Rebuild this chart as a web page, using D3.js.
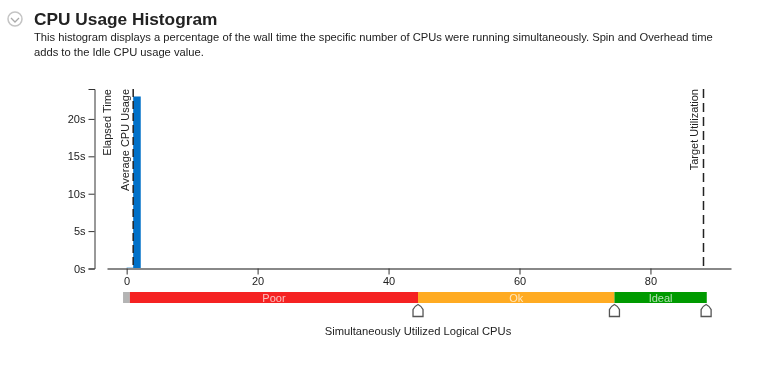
<!DOCTYPE html>
<html>
<head>
<meta charset="utf-8">
<script src="https://cdn.jsdelivr.net/npm/d3@7"></script>
<style>
body { margin: 0; background: #fff; font-family: "Liberation Sans", Arial, sans-serif; overflow: hidden; }
#page { position: absolute; left: 0; top: 0; width: 761px; height: 374px; filter: blur(0.4px); }
h2 { position: absolute; left: 34px; top: 10px; margin: 0; font-size: 17.3px; line-height: 19px; color: #222; }
p { position: absolute; left: 34px; top: 30px; margin: 0; width: 690px; font-size: 11.2px; line-height: 15px; color: #222; }
svg { position: absolute; left: 0; top: 0; }
text { font-family: "Liberation Sans", Arial, sans-serif; font-size: 11px; fill: #222; }
.axis path, .axis line { stroke: #333; }
.x-axis path { stroke: #888; stroke-width: 2; }
</style>
</head>
<body>
<div id="page">
<div id="chart"></div>
<h2>CPU Usage Histogram</h2>
<p>This histogram displays a percentage of the wall time the specific number of CPUs were running simultaneously. Spin and Overhead time adds to the Idle CPU usage value.</p>
</div>
<script>
const width = 761, height = 374

const cpuBins = [0, 1]
const elapsed = [0.15, 23]
const barColors = ["#7fb8e3", "#0070c8"]
const xTicks = [0, 20, 40, 60, 80]
const yTicks = [0, 5, 10, 15, 20]
const zoneNames = ["Idle", "Poor", "Ok", "Ideal"]
const zoneEdges = [-0.55, 0.5, 44.5, 74.5, 88.6]
const zoneColors = ["#b4b4b4", "#f52222", "#ffab22", "#009a00"]
const handles = [44.5, 74.5, 88.5]
const averageUsage = 1
const targetUtilization = 88.1

var xScale = d3.scaleLinear()
    .domain([-3, 92.3])
    .range([107, 731])
var yScale = d3.scaleLinear()
    .domain([0, 24])
    .range([268.5, 89])

var svg = d3.select("#chart").append("svg")
    .attr("width", width)
    .attr("height", height)

// collapse icon next to the title
var icon = svg.append("g").attr("transform", "translate(15,19)")
icon.append("circle").attr("r", 7).attr("fill", "none").attr("stroke", "#c4c4c4").attr("stroke-width", 1.5)
icon.append("path").attr("d", "M-4,-1L0,3L4,-1").attr("fill", "none").attr("stroke", "#aaa").attr("stroke-width", 1.3)

// histogram bars
svg.selectAll("rect.bar")
    .data(cpuBins)
    .enter()
    .append("rect")
        .attr("class", "bar")
        .attr("x", d => xScale(d))
        .attr("y", (d, i) => yScale(elapsed[i]))
        .attr("width", d => xScale(d + 1) - xScale(d) + 1)
        .attr("height", (d, i) => yScale(0) - yScale(elapsed[i]))
        .attr("fill", (d, i) => barColors[i])

svg.append("g")
    .attr("class", "axis")
    .attr("transform", "translate(94.5,0)")
    .call(d3.axisLeft(yScale).tickValues(yTicks).tickFormat(d => d + "s").tickSize(6).tickSizeOuter(6))

svg.append("g")
    .attr("class", "axis x-axis")
    .attr("transform", "translate(0,268.5)")
    .call(d3.axisBottom(xScale).tickValues(xTicks).tickSize(6).tickSizeOuter(0))

svg.selectAll(".axis text").style("font-size", "11px")

// reference lines
function refLine(value, label, offset, dash) {
    svg.append("line")
        .attr("x1", xScale(value)).attr("x2", xScale(value))
        .attr("y1", yScale(24)).attr("y2", yScale(0))
        .attr("stroke", "#222")
        .attr("stroke-width", 1.5)
        .attr("stroke-dasharray", dash)
    svg.append("text")
        .attr("transform", "translate(" + (xScale(value) + offset) + "," + yScale(24) + ")rotate(-90)")
        .attr("text-anchor", "end")
        .text(label)
}
refLine(averageUsage, "Average CPU Usage", -4, "8,4")
refLine(targetUtilization, "Target Utilization", -5.5, "9,5")

svg.append("text")
    .attr("transform", "translate(111," + yScale(24) + ")rotate(-90)")
    .attr("text-anchor", "end")
    .text("Elapsed Time")

// utilization zones
var zones = svg.selectAll("g.zone")
    .data(zoneNames)
    .enter()
    .append("g")
        .attr("class", "zone")
zones.append("rect")
    .attr("x", (d, i) => xScale(zoneEdges[i]))
    .attr("y", 292)
    .attr("width", (d, i) => xScale(zoneEdges[i + 1]) - xScale(zoneEdges[i]))
    .attr("height", 11)
    .attr("fill", (d, i) => zoneColors[i])
zones.append("text")
    .attr("x", (d, i) => (xScale(zoneEdges[i]) + xScale(zoneEdges[i + 1])) / 2)
    .attr("y", 301.5)
    .attr("text-anchor", "middle")
    .style("fill", "#fff")
    .style("opacity", 0.7)
    .text((d, i) => i == 0 ? "" : d)

svg.selectAll("path.handle")
    .data(handles)
    .enter()
    .append("path")
        .attr("class", "handle")
        .attr("transform", d => "translate(" + xScale(d) + ",304.5)")
        .attr("d", "M-5,12V5Q-4,2,0,0Q4,2,5,5V12Z")
        .attr("fill", "#fff")
        .attr("stroke", "#555")
        .attr("stroke-width", 1.3)

svg.append("text")
    .attr("x", 418)
    .attr("y", 335)
    .attr("text-anchor", "middle")
    .style("font-size", "11.2px")
    .text("Simultaneously Utilized Logical CPUs")
</script>
</body>
</html>
